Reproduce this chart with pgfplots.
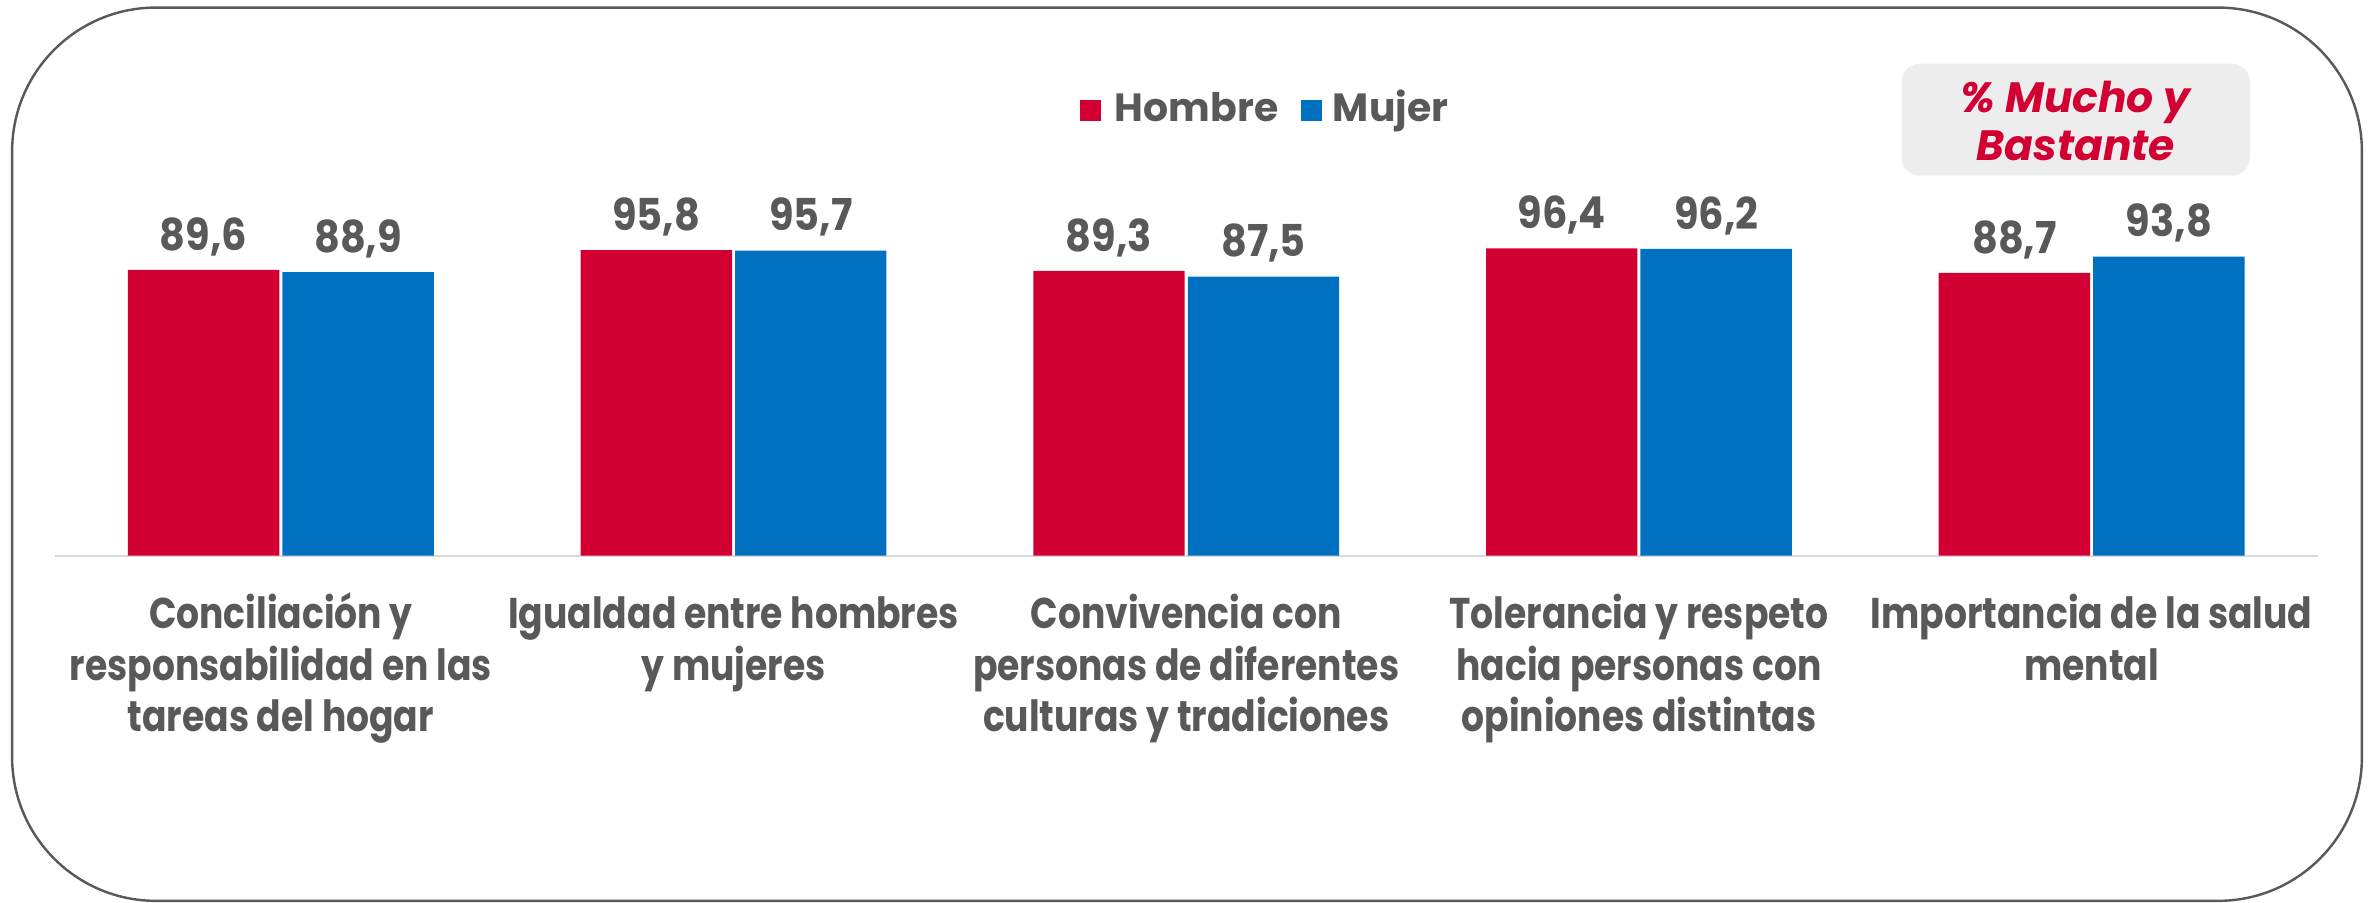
\documentclass[border=0pt]{standalone}
\usepackage{pgfplots}
\pgfplotsset{compat=1.18}
\usepackage{fontspec}
\setmainfont{Poppins}
\newfontfamily\catfont{Poppins}[FakeStretch=0.84]
\newfontfamily\valfont{Poppins}[FakeStretch=0.91]
\definecolor{hred}{HTML}{D20032}
\definecolor{mblue}{HTML}{0070C0}
\definecolor{txtgray}{HTML}{595959}
\definecolor{linegray}{HTML}{D9D9D9}
\definecolor{boxgray}{HTML}{EDEDED}
\newcommand\fl{\rule{0pt}{14pt}}
\begin{document}
\begin{tikzpicture}
\useasboundingbox (0,0) rectangle (784pt,298pt);
\draw[txtgray, line width=0.8pt, rounded corners=47.5pt] (4pt,0.5pt) rectangle (780pt,295.5pt);
\begin{axis}[
  at={(18pt,114.5pt)}, anchor=south west,
  scale only axis, width=747.5pt, height=105.3pt,
  xmin=-0.5, xmax=4.5, ymin=0, ymax=100,
  clip=false,
  hide y axis,
  axis x line*=bottom,
  x axis line style={draw=linegray, line width=0.75pt, -},
  xtick={0,...,4}, major tick length=0pt,
  xticklabels={
    {\fl Conciliación y\\responsabilidad en las\\tareas del hogar},
    {\fl Igualdad entre hombres\\y mujeres},
    {\fl Convivencia con\\personas de diferentes\\culturas y tradiciones},
    {\fl Tolerancia y respeto\\hacia personas con\\opiniones distintas},
    {\fl Importancia de la salud\\mental}},
  xticklabel style={align=center, anchor=north, inner sep=0pt, yshift=-10pt,
    font=\catfont\fontsize{14.2}{17}\selectfont\bfseries, text=txtgray},
  ybar=1pt, bar width=50pt,
  nodes near coords,
  nodes near coords align={anchor=base},
  every node near coord/.append style={yshift=6.5pt, inner sep=0pt, text=txtgray,
    font=\valfont\fontsize{14.5}{17}\selectfont\bfseries},
  /pgf/number format/.cd, use comma, fixed, fixed zerofill, precision=1, assume math mode=true,
]
\addplot[fill=hred, draw=none] coordinates {(0,89.6) (1,95.8) (2,89.3) (3,96.4) (4,88.7)};
\addplot[fill=mblue, draw=none] coordinates {(0,88.9) (1,95.7) (2,87.5) (3,96.2) (4,93.8)};
\end{axis}
% legend
\fill[hred] (356.5pt,258pt) rectangle (363.5pt,265pt);
\node[anchor=base west, inner sep=0pt, text=txtgray, font=\fontsize{13}{15}\selectfont\bfseries] at (368pt,258pt) {Hombre};
\fill[mblue] (429.5pt,258pt) rectangle (436.5pt,265pt);
\node[anchor=base west, inner sep=0pt, text=txtgray, font=\fontsize{13}{15}\selectfont\bfseries] at (440pt,258pt) {Mujer};
% note box
\fill[boxgray, rounded corners=6pt] (628pt,240pt) rectangle (743pt,277pt);
\node[anchor=base, inner sep=0pt, text=hred, font=\fontsize{14}{16}\selectfont\bfseries\itshape] at (685.5pt,261pt) {\% Mucho y};
\node[anchor=base, inner sep=0pt, text=hred, font=\fontsize{14}{16}\selectfont\bfseries\itshape] at (685.5pt,245pt) {Bastante};
\end{tikzpicture}
\end{document}
